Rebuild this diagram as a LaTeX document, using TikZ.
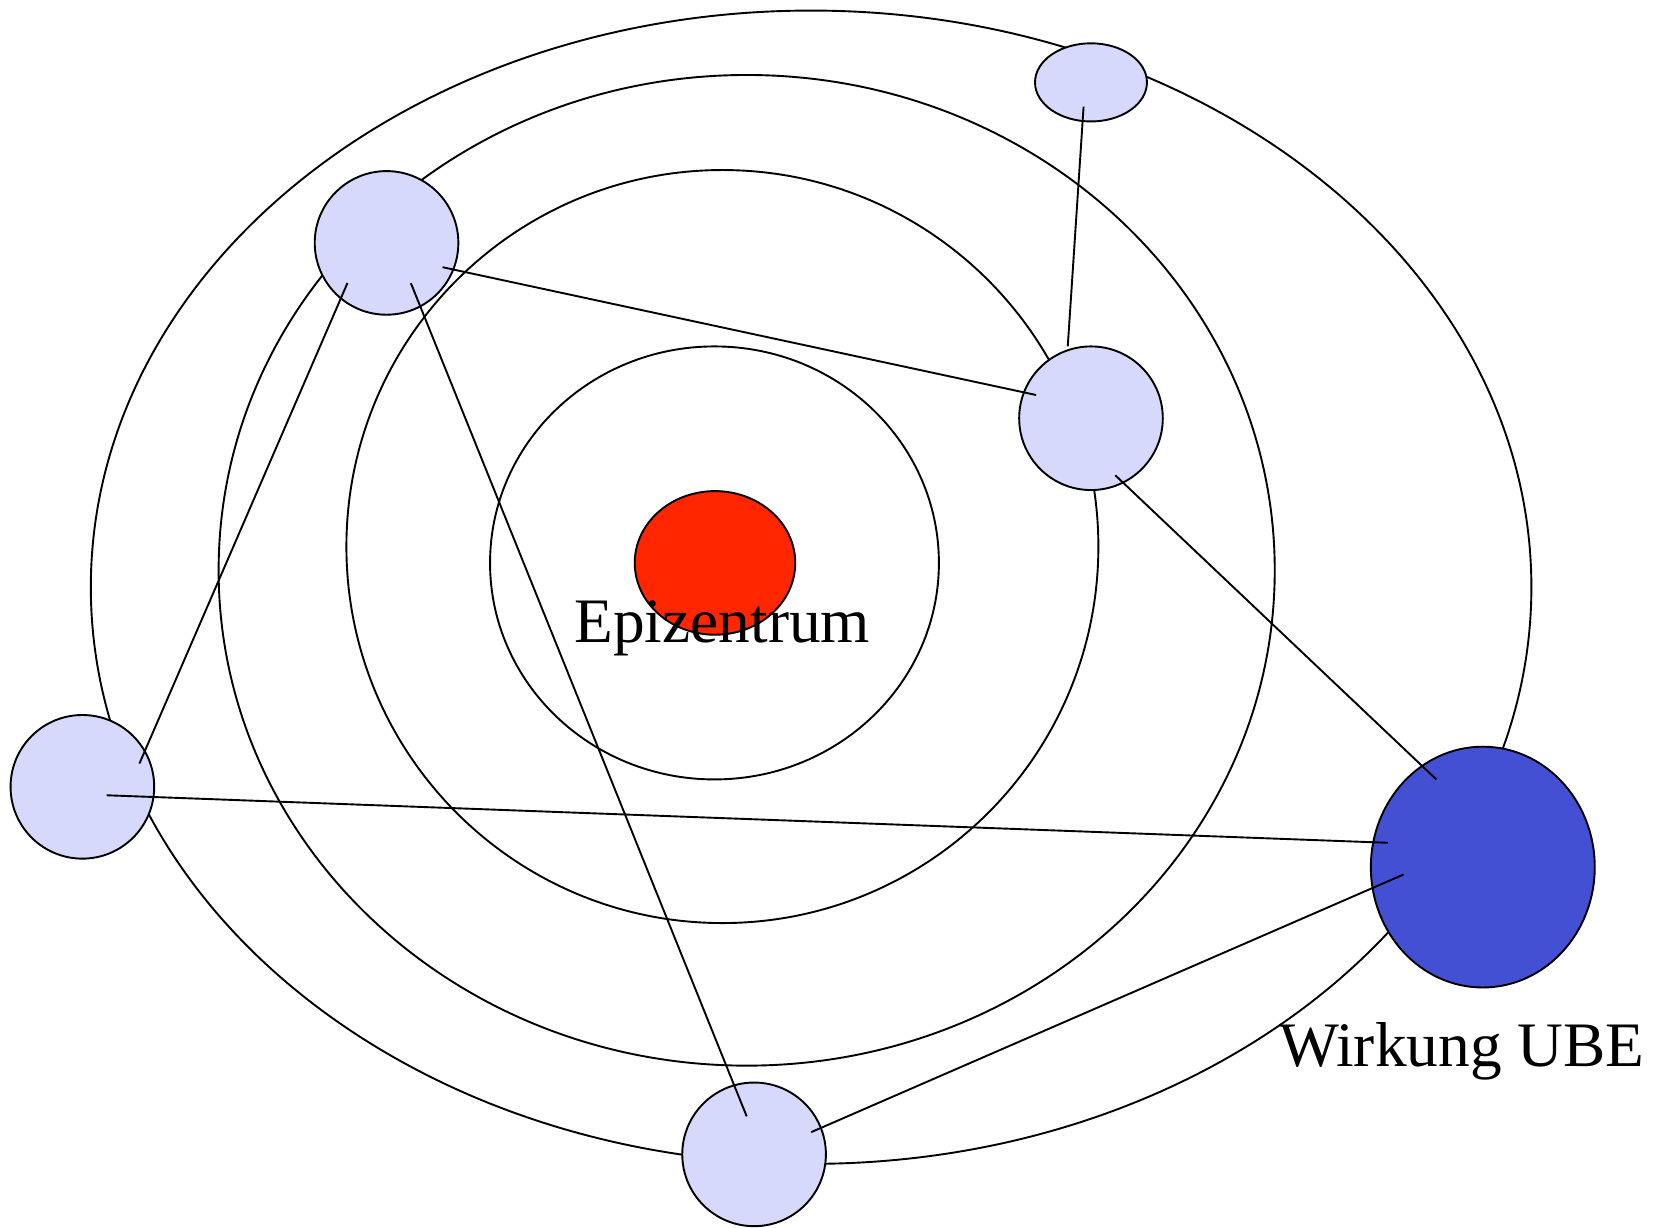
\documentclass[tikz,border=0pt]{standalone}
\usepackage{fontspec}
\setmainfont{Liberation Serif}
\usetikzlibrary{shapes.geometric}
\definecolor{lightnode}{RGB}{214,216,252}
\definecolor{epired}{RGB}{255,38,0}
\definecolor{ubeblue}{RGB}{68,80,212}
\tikzset{
  ring/.style={draw=black, line width=1.8pt},
  orb/.style={ellipse, draw=black, line width=1.8pt, inner sep=0pt, fill=lightnode},
  conn/.style={draw=black, line width=1.8pt},
  lbl/.style={font=\fontsize{60}{66}\selectfont, inner sep=0pt, anchor=base}
}
\begin{document}
\begin{tikzpicture}[x=1pt,y=-1pt]
\useasboundingbox (0,0) rectangle (1568,1162);
% rings
\draw[ring] (676.5,533) ellipse [x radius=212.5pt, y radius=205pt];
\draw[ring] (684,517.5) ellipse [x radius=356pt, y radius=356.5pt];
\draw[ring] (707,540) ellipse [x radius=500pt, y radius=469pt];
\draw[ring] (768,556) ellipse [x radius=682pt, y radius=546pt];
% nodes
\node[orb, fill=epired, minimum width=152pt, minimum height=136pt] (epi) at (677,533) {};
\node[orb, minimum width=136pt, minimum height=136pt] (a) at (366,230) {};
\node[orb, minimum width=106pt, minimum height=74pt] (b) at (1033,78) {};
\node[orb, minimum width=136pt, minimum height=136pt] (c) at (1033,396) {};
\node[orb, minimum width=136pt, minimum height=136pt] (d) at (78,745) {};
\node[orb, minimum width=136pt, minimum height=136pt] (e) at (714,1093) {};
\node[orb, fill=ubeblue, minimum width=212pt, minimum height=228pt] (f) at (1404,821) {};
% connector end points inside nodes
\coordinate (b1) at (1026,101);
\coordinate (c1) at (1011,328);
\coordinate (a1) at (419,253);
\coordinate (c2) at (981,374);
\coordinate (a2) at (329,268);
\coordinate (d1) at (132,723);
\coordinate (a3) at (389,268);
\coordinate (e1) at (707,1057);
\coordinate (c3) at (1056,450);
\coordinate (f1) at (1360,738);
\coordinate (d2) at (101,753);
\coordinate (f2) at (1314,798);
\coordinate (f3) at (1329,828);
\coordinate (e2) at (768,1072);
% connectors
\draw[conn] (b1) -- (c1);
\draw[conn] (a1) -- (c2);
\draw[conn] (a2) -- (d1);
\draw[conn] (a3) -- (e1);
\draw[conn] (c3) -- (f1);
\draw[conn] (d2) -- (f2);
\draw[conn] (f3) -- (e2);
% labels
\node[lbl] (epilbl) at (684,608) {Epizentrum};
\node[lbl] (ubelbl) at (1384,1010) {Wirkung UBE};
\end{tikzpicture}
\end{document}
